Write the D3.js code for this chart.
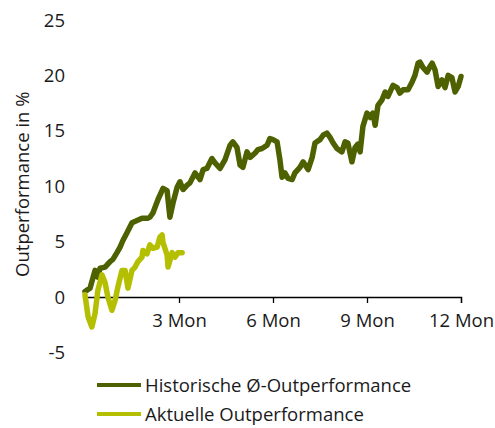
<!DOCTYPE html>
<html>
<head>
<meta charset="utf-8">
<script src="https://cdn.jsdelivr.net/npm/d3@7"></script>
<style>
  body { margin: 0; background: #fff; }
  svg text { font-family: "Open Sans", sans-serif; fill: #1a1a1a; }
</style>
</head>
<body>
<div id="chart"></div>
<script>
// months since start (x) and outperformance in % (y)
const histMonths = [0, 0.16, 0.32, 0.41, 0.48, 0.64, 0.8, 0.89, 1.02, 1.12, 1.21, 1.34, 1.5, 1.66, 1.82, 1.98, 2.07, 2.17, 2.33, 2.49, 2.62, 2.71, 2.81, 2.94, 3.03, 3.13, 3.26, 3.35, 3.51, 3.67, 3.77, 3.89, 4.05, 4.15, 4.31, 4.47, 4.63, 4.72, 4.85, 4.95, 5.04, 5.17, 5.27, 5.43, 5.52, 5.65, 5.81, 5.9, 6.0, 6.13, 6.22, 6.29, 6.38, 6.48, 6.61, 6.7, 6.86, 6.96, 7.12, 7.25, 7.34, 7.5, 7.6, 7.72, 7.82, 7.92, 8.04, 8.2, 8.3, 8.39, 8.52, 8.62, 8.71, 8.78, 8.87, 9.0, 9.1, 9.19, 9.26, 9.35, 9.48, 9.58, 9.67, 9.83, 9.96, 10.05, 10.15, 10.31, 10.44, 10.53, 10.63, 10.69, 10.79, 10.92, 11.01, 11.08, 11.17, 11.27, 11.39, 11.49, 11.59, 11.71, 11.81, 11.91, 12.0];
const histValues = [0.5, 0.8, 2.4, 1.8, 2.6, 2.7, 3.2, 3.4, 4.0, 4.5, 5.1, 5.8, 6.7, 6.9, 7.1, 7.1, 7.2, 7.6, 8.8, 9.8, 9.6, 7.2, 8.5, 9.9, 10.4, 9.7, 10.1, 10.3, 11.2, 10.6, 11.5, 11.6, 12.5, 12.1, 11.6, 12.4, 13.7, 14.0, 13.5, 11.9, 11.7, 13.1, 12.6, 13.0, 13.3, 13.4, 13.7, 14.3, 14.2, 14.0, 12.4, 10.8, 11.2, 10.7, 10.6, 11.2, 11.7, 12.2, 11.5, 12.6, 13.9, 14.2, 14.6, 14.8, 14.4, 13.9, 13.4, 13.1, 14.0, 13.9, 12.2, 13.5, 13.8, 13.1, 15.4, 16.6, 16.2, 16.6, 15.5, 17.3, 17.8, 18.5, 18.1, 19.1, 18.9, 18.4, 18.7, 18.7, 19.4, 20.0, 21.1, 21.2, 20.7, 20.3, 20.8, 21.1, 20.5, 19.0, 19.6, 18.9, 20.0, 19.8, 18.5, 19.0, 19.9];

const currMonths = [0, 0.1, 0.22, 0.32, 0.41, 0.54, 0.64, 0.73, 0.86, 0.96, 1.05, 1.18, 1.28, 1.37, 1.5, 1.6, 1.69, 1.82, 1.85, 1.98, 2.07, 2.17, 2.3, 2.39, 2.46, 2.49, 2.62, 2.65, 2.78, 2.87, 2.97, 3.1];
const currValues = [0.2, -1.8, -2.7, -1.5, 0.6, 2.0, 1.3, 0.0, -1.2, -0.3, 0.9, 2.4, 2.4, 0.8, 2.4, 2.7, 3.2, 3.6, 4.2, 3.9, 4.7, 4.4, 4.5, 5.4, 5.6, 4.9, 3.8, 2.7, 4.0, 3.6, 4.0, 4.0];

const xTicks = [3, 6, 9, 12];
const xTickLabels = ["3 Mon", "6 Mon", "9 Mon", "12 Mon"];
const yTicks = [-5, 0, 5, 10, 15, 20, 25];

const seriesNames = ["Historische Ø-Outperformance", "Aktuelle Outperformance"];
const seriesColors = ["#4e6100", "#b3bf00"];

const width = 495, height = 428;
const fontSize = 18.5;

const svg = d3.select("#chart").append("svg")
  .attr("width", width)
  .attr("height", height);

const x = d3.scaleLinear().domain([0, 12]).range([85, 461]);
const y = d3.scaleLinear().domain([-5, 25]).range([352.4, 20]);

// y tick labels (no axis line)
svg.append("g")
  .selectAll("text")
  .data(yTicks)
  .join("text")
  .attr("x", 65)
  .attr("y", (d) => y(d))
  .attr("dy", "0.36em")
  .attr("text-anchor", "end")
  .attr("font-size", fontSize)
  .text((d) => d);

// y title
svg.append("text")
  .attr("transform", `translate(29,${y(10) - 2}) rotate(-90)`)
  .attr("text-anchor", "middle")
  .attr("font-size", fontSize)
  .text("Outperformance in %");

// x axis along 0
const xAxis = d3.axisBottom(x)
  .tickValues(xTicks)
  .tickFormat((d, i) => xTickLabels[i])
  .tickSize(6)
  .tickPadding(11);

const gx = svg.append("g")
  .attr("transform", `translate(0,${y(0)})`)
  .call(xAxis);
gx.select(".domain").attr("stroke", "#000").attr("stroke-width", 1.3);
gx.selectAll(".tick line").attr("stroke", "#000").attr("stroke-width", 1.3);
gx.selectAll(".tick text")
  .attr("font-size", fontSize)
  .attr("font-family", "'Open Sans', sans-serif")
  .attr("fill", "#1a1a1a");

const line = d3.line()
  .x((d) => x(d[0]))
  .y((d) => y(d[1]));

const series = [
  d3.zip(histMonths, histValues),
  d3.zip(currMonths, currValues),
];

svg.append("g")
  .selectAll("path")
  .data(series)
  .join("path")
  .attr("d", line)
  .attr("fill", "none")
  .attr("stroke", (d, i) => seriesColors[i])
  .attr("stroke-width", 5.5)
  .attr("stroke-linejoin", "round")
  .attr("stroke-linecap", "round");

// legend
const legend = svg.append("g")
  .selectAll("g")
  .data(seriesNames)
  .join("g")
  .attr("transform", (d, i) => `translate(97,${385 + i * 29})`);

legend.append("line")
  .attr("x1", 0)
  .attr("x2", 44)
  .attr("stroke", (d, i) => seriesColors[i])
  .attr("stroke-width", 4);

legend.append("text")
  .attr("x", 48)
  .attr("dy", "0.36em")
  .attr("font-size", fontSize)
  .text((d) => d);
</script>
</body>
</html>
